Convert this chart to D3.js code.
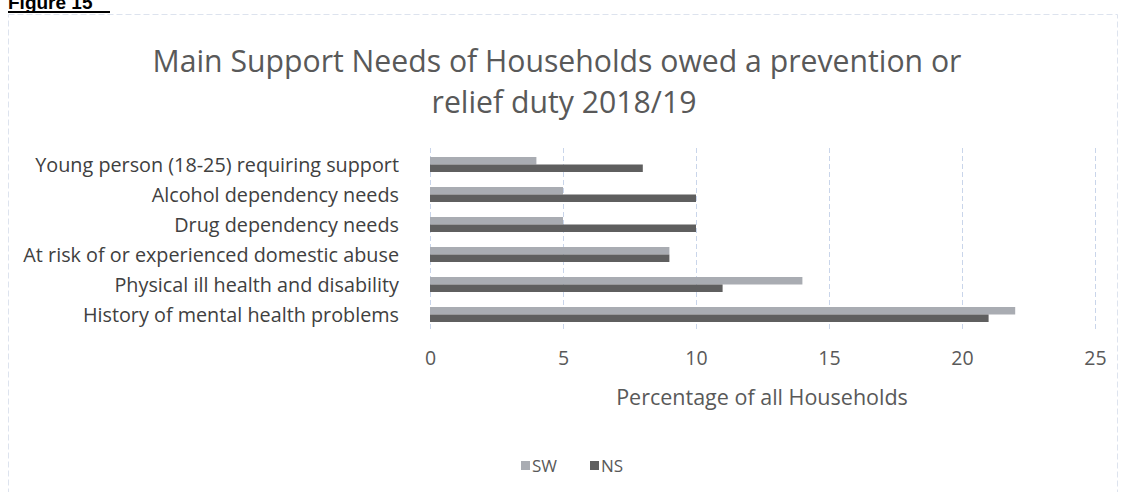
<!DOCTYPE html>
<html lang="en">
<head>
    <meta charset="UTF-8">
    <title>Main Support Needs of Households</title>
    <script src="https://d3js.org/d3.v7.min.js"></script>
    <style>
        body { margin: 0; background: #fff; }
        text { font-family: "Open Sans", "Noto Sans", sans-serif; }
    </style>
</head>
<body>
    <svg width="1122" height="492"></svg>

    <script>
        // Chart data
        const categories = [
            "Young person (18-25) requiring support",
            "Alcohol dependency needs",
            "Drug dependency needs",
            "At risk of or experienced domestic abuse",
            "Physical ill health and disability",
            "History of mental health problems"
        ];
        const seriesNames = ["SW", "NS"];
        const swValues = [4, 5, 5, 9, 14, 22];
        const nsValues = [8, 10, 10, 9, 11, 21];
        const xTicks = [0, 5, 10, 15, 20, 25];

        const width = 1122;
        const height = 492;
        const colors = { SW: "#a9acb2", NS: "#5f5f5f" };

        const svg = d3.select("svg")
            .attr("width", width)
            .attr("height", height);

        // "Figure 15" heading, cropped at the top of the page
        svg.append("text")
            .attr("x", 8)
            .attr("y", 9)
            .style("font-family", "'Liberation Sans', Arial, sans-serif")
            .attr("font-weight", "bold")
            .attr("font-size", 19)
            .attr("fill", "#000")
            .text("Figure 15");
        svg.append("line")
            .attr("x1", 8).attr("x2", 110)
            .attr("y1", 12).attr("y2", 12)
            .attr("stroke", "#000")
            .attr("stroke-width", 2);

        // chart frame
        svg.append("rect")
            .attr("x", 8.5).attr("y", 14.5)
            .attr("width", 1109).attr("height", 490)
            .attr("fill", "none")
            .attr("stroke", "#dde3ee")
            .attr("stroke-dasharray", "6,3");

        // title
        const title = svg.append("text")
            .attr("text-anchor", "middle")
            .attr("font-size", 30.2)
            .attr("fill", "#595959");
        title.append("tspan").attr("x", 557).attr("y", 72)
            .text("Main Support Needs of Households owed a prevention or");
        title.append("tspan").attr("x", 564).attr("y", 113)
            .text("relief duty 2018/19");

        // scales
        const x = d3.scaleLinear()
            .domain([0, 25])
            .range([430, 1095]);

        const y = d3.scaleBand()
            .domain(categories)
            .range([150, 330])
            .paddingInner(0.5)
            .paddingOuter(0.25);

        const ySub = d3.scaleBand()
            .domain(seriesNames)
            .range([0, y.bandwidth()]);

        // gridlines
        svg.append("g")
            .selectAll("line")
            .data(xTicks)
            .join("line")
            .attr("x1", d => x(d) + 0.5)
            .attr("x2", d => x(d) + 0.5)
            .attr("y1", 148)
            .attr("y2", 330)
            .attr("stroke", "#c9d5ea")
            .attr("stroke-dasharray", "5,3");

        // bars
        const rows = categories.map((c, i) => ({ cat: c, SW: swValues[i], NS: nsValues[i] }));

        const groups = svg.append("g")
            .selectAll("g")
            .data(rows)
            .join("g")
            .attr("transform", d => `translate(0,${y(d.cat) - 0.5})`);

        groups.selectAll("rect")
            .data(d => seriesNames.map(s => ({ key: s, value: d[s] })))
            .join("rect")
            .attr("x", x(0))
            .attr("y", d => ySub(d.key))
            .attr("width", d => x(d.value) - x(0))
            .attr("height", ySub.bandwidth())
            .attr("fill", d => colors[d.key]);

        // category labels
        svg.append("g")
            .selectAll("text")
            .data(categories)
            .join("text")
            .attr("x", 399)
            .attr("y", d => y(d) + y.bandwidth() / 2)
            .attr("dy", "0.35em")
            .attr("text-anchor", "end")
            .attr("font-size", 19.8)
            .attr("fill", "#404040")
            .text(d => d);

        // x axis tick labels
        const xAxis = d3.axisBottom(x)
            .tickValues(xTicks)
            .tickSize(0)
            .tickPadding(0);

        const axisG = svg.append("g")
            .attr("transform", "translate(0,353)")
            .call(xAxis);
        axisG.select(".domain").remove();
        axisG.selectAll("text")
            .attr("font-size", 19.5)
            .attr("fill", "#595959")
            .style("font-family", "'Open Sans', 'Noto Sans', sans-serif")
            .attr("dy", "0.6em");

        // axis title
        svg.append("text")
            .attr("x", 762)
            .attr("y", 405)
            .attr("text-anchor", "middle")
            .attr("font-size", 21.5)
            .attr("fill", "#595959")
            .text("Percentage of all Households");

        // legend
        const legend = svg.append("g")
            .attr("transform", "translate(521,466)");
        const legendItems = legend.selectAll("g")
            .data(seriesNames)
            .join("g")
            .attr("transform", (d, i) => `translate(${i * 69},0)`);
        legendItems.append("rect")
            .attr("x", 0).attr("y", -5)
            .attr("width", 9).attr("height", 9)
            .attr("fill", d => colors[d]);
        legendItems.append("text")
            .attr("x", 11)
            .attr("y", 0)
            .attr("dy", "0.35em")
            .attr("font-size", 17)
            .attr("fill", "#595959")
            .text(d => d);
    </script>
</body>
</html>
